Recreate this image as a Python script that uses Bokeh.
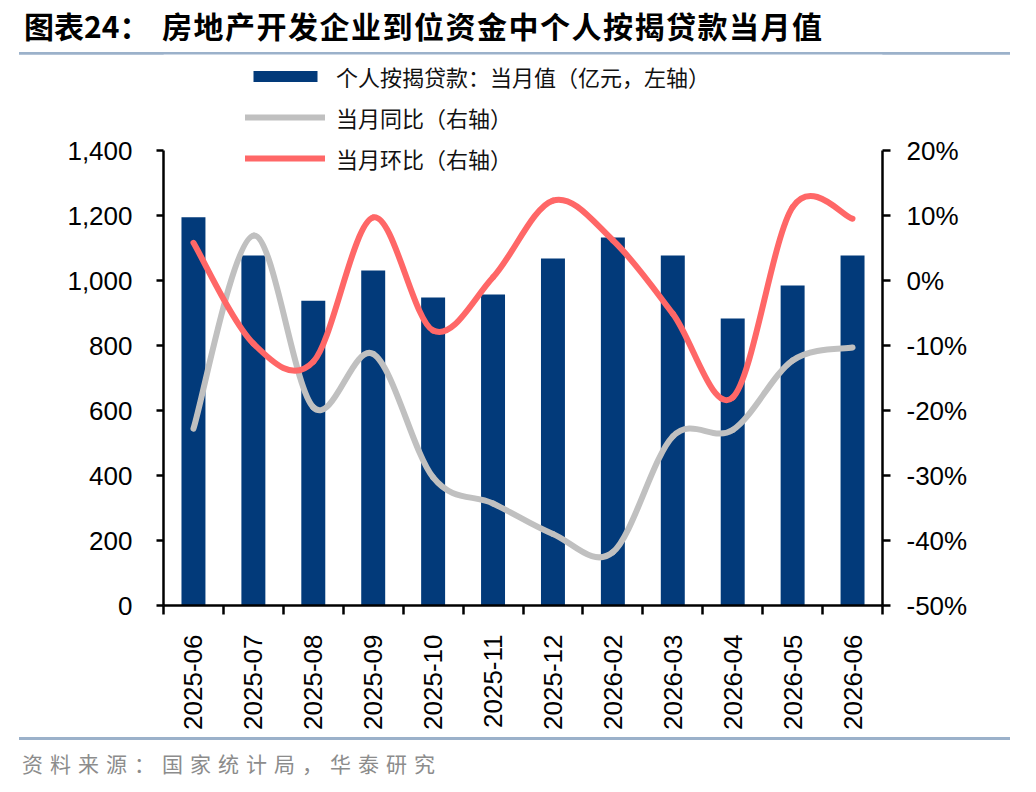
from bokeh.plotting import figure
from bokeh.models import (Range1d, LinearAxis, FixedTicker, PrintfTickFormatter,
                          NumeralTickFormatter, Legend, LegendItem, Div,
                          ColumnDataSource, CustomJSTickFormatter)
from bokeh.layouts import column
from bokeh.embed import file_html
from bokeh.resources import INLINE
import math

# ---- data ----
months = ["2025-06", "2025-07", "2025-08", "2025-09", "2025-10", "2025-11",
          "2025-12", "2026-02", "2026-03", "2026-04", "2026-05", "2026-06"]
loans = [1195, 1077, 938, 1031, 948, 957, 1068, 1132, 1077, 883, 985, 1077]   # 亿元
yoy = [-22.8, 6.9, -19.5, -11.3, -30.3, -34.3, -39.0, -41.8, -24.0, -23.0, -12.3, -10.3]  # %
mom = [5.8, -9.7, -12.5, 9.7, -7.7, 0.5, 12.3, 6.2, -5.1, -18.0, 11.3, 9.5]   # %
left_ticks = [0, 200, 400, 600, 800, 1000, 1200, 1400]
right_ticks = [-50, -40, -30, -20, -10, 0, 10, 20]

title_num = "图表24："
title_text = "房地产开发企业到位资金中个人按揭贷款当月值"
source_text = "资料来源：国家统计局，华泰研究"
legend_labels = ["个人按揭贷款：当月值（亿元，左轴）", "当月同比（右轴）", "当月环比（右轴）"]

NAVY = "#023A7A"
GRAY = "#C0C0C0"
RED = "#FF6767"
RULE = "#9BB1CA"
CJK = "Noto Sans CJK SC"
NUM = "Liberation Sans"

W = 1020
TITLE_H = 44
FIG_H = 678
FOOT_H = 50

# frame geometry (pixels inside the figure)
frame_top, frame_bottom = 0, 551
axis_px = 455                           # pixels used by the 0..1400 axis
frame_px = frame_bottom - frame_top
l_min, l_max = left_ticks[0], left_ticks[-1]
r_min, r_max = right_ticks[0], right_ticks[-1]
l_top = l_min + (l_max - l_min) * frame_px / axis_px
r_top = r_min + (r_max - r_min) * frame_px / axis_px

p = figure(width=W, height=FIG_H, output_backend="svg", toolbar_location=None,
           x_range=Range1d(0, len(months)), y_range=Range1d(l_min, l_top),
           min_border_left=163, min_border_right=W - 882, min_border_top=frame_top,
           min_border_bottom=FIG_H - frame_bottom)
p.extra_y_ranges = {"right": Range1d(r_min, r_top)}
p.xgrid.visible = False
p.ygrid.visible = False
p.outline_line_color = None
p.background_fill_color = "white"
p.border_fill_color = "white"

centers = [i + 0.5 for i in range(len(months))]
src = ColumnDataSource(dict(x=centers, loans=loans))
bars = p.vbar(x="x", top="loans", width=0.4, source=src, fill_color=NAVY, line_color=None)


def smooth(xs, ys):
    n = len(xs)
    d = dict(x0=[], y0=[], x1=[], y1=[], cx0=[], cy0=[], cx1=[], cy1=[])
    for i in range(n - 1):
        a = i - 1 if i > 0 else i
        b = i + 2 if i + 2 < n else i + 1
        d["x0"].append(xs[i]); d["y0"].append(ys[i])
        d["x1"].append(xs[i + 1]); d["y1"].append(ys[i + 1])
        d["cx0"].append(xs[i] + (xs[i + 1] - xs[a]) / 6.0)
        d["cy0"].append(ys[i] + (ys[i + 1] - ys[a]) / 6.0)
        d["cx1"].append(xs[i + 1] - (xs[b] - xs[i]) / 6.0)
        d["cy1"].append(ys[i + 1] - (ys[b] - ys[i]) / 6.0)
    return ColumnDataSource(d)


g_gray = p.bezier(x0="x0", y0="y0", x1="x1", y1="y1", cx0="cx0", cy0="cy0", cx1="cx1", cy1="cy1",
                  source=smooth(centers, yoy), line_color=GRAY, line_width=6,
                  line_cap="round", y_range_name="right")
g_red = p.bezier(x0="x0", y0="y0", x1="x1", y1="y1", cx0="cx0", cy0="cy0", cx1="cx1", cy1="cy1",
                 source=smooth(centers, mom), line_color=RED, line_width=6,
                 line_cap="round", y_range_name="right")


def style_axis(ax):
    ax.axis_line_color = "black"
    ax.axis_line_width = 2.5
    ax.major_tick_line_color = "black"
    ax.major_tick_line_width = 2.5
    ax.minor_tick_line_color = None
    ax.major_label_text_font = NUM
    ax.major_label_text_font_size = "26px"
    ax.major_label_text_color = "black"


ly = p.yaxis[0]
style_axis(ly)
ly.ticker = FixedTicker(ticks=left_ticks)
ly.formatter = NumeralTickFormatter(format="0,0")
ly.bounds = (l_min, l_max)
ly.major_tick_out = 7
ly.major_tick_in = 0
ly.major_label_standoff = 24

ry = LinearAxis(y_range_name="right", ticker=FixedTicker(ticks=right_ticks),
                formatter=PrintfTickFormatter(format="%d%%"))
style_axis(ry)
ry.bounds = (r_min, r_max)
ry.major_tick_out = 8
ry.major_tick_in = 0
ry.major_label_standoff = 16
p.add_layout(ry, "right")

bx = p.xaxis[0]
style_axis(bx)
bx.ticker = FixedTicker(ticks=centers, minor_ticks=list(range(len(months) + 1)))
bx.formatter = CustomJSTickFormatter(args=dict(labels=months),
                                     code="return labels[Math.floor(tick)];")
bx.major_tick_out = 0
bx.major_tick_in = 0
bx.minor_tick_line_color = "black"
bx.minor_tick_line_width = 2.5
bx.minor_tick_out = 9
bx.minor_tick_in = 0
bx.major_label_orientation = math.pi / 2
bx.major_label_standoff = 20

legend = Legend(items=[
    LegendItem(label=legend_labels[0], renderers=[bars]),
    LegendItem(label=legend_labels[1], renderers=[g_gray]),
    LegendItem(label=legend_labels[2], renderers=[g_red]),
], location=(82, 431), orientation="vertical")
legend.padding = 0
legend.margin = 0
legend.border_line_color = None
legend.background_fill_alpha = 0
legend.glyph_width = 80
legend.glyph_height = 14
legend.label_standoff = 11
legend.label_text_font = CJK
legend.label_text_font_size = "22px"
legend.label_text_color = "#111111"
legend.label_height = 26
legend.spacing = 9
p.add_layout(legend, "center")

title_div = Div(width=W, height=TITLE_H, text=(
    f'<div style="position:relative;margin-left:14px;width:991px;height:50px;'
    f'border-bottom:3px solid {RULE};">'
    f'<span style="position:absolute;left:5px;top:-1px;white-space:nowrap;font-family:\'{CJK}\';'
    f'font-weight:bold;font-size:30px;line-height:42px;color:#000;">{title_num}</span>'
    f'<span style="position:absolute;left:143px;top:-1px;white-space:nowrap;font-family:\'{CJK}\';'
    f'font-weight:bold;font-size:30px;line-height:42px;letter-spacing:1.5px;color:#000;">{title_text}</span>'
    f'</div>'))

foot_div = Div(width=W, height=FOOT_H, text=(
    f'<div style="position:relative;margin-left:14px;width:991px;height:{FOOT_H - 3}px;'
    f'border-top:3px solid {RULE};">'
    f'<span style="position:absolute;left:3px;top:8px;white-space:nowrap;font-family:\'{CJK}\';'
    f'font-size:21px;line-height:30px;letter-spacing:7px;color:#8C8C8C;">{source_text}</span>'
    f'</div>'))

layout = column(title_div, p, foot_div, spacing=0)
open("out.html", "w").write(file_html(layout, INLINE))
